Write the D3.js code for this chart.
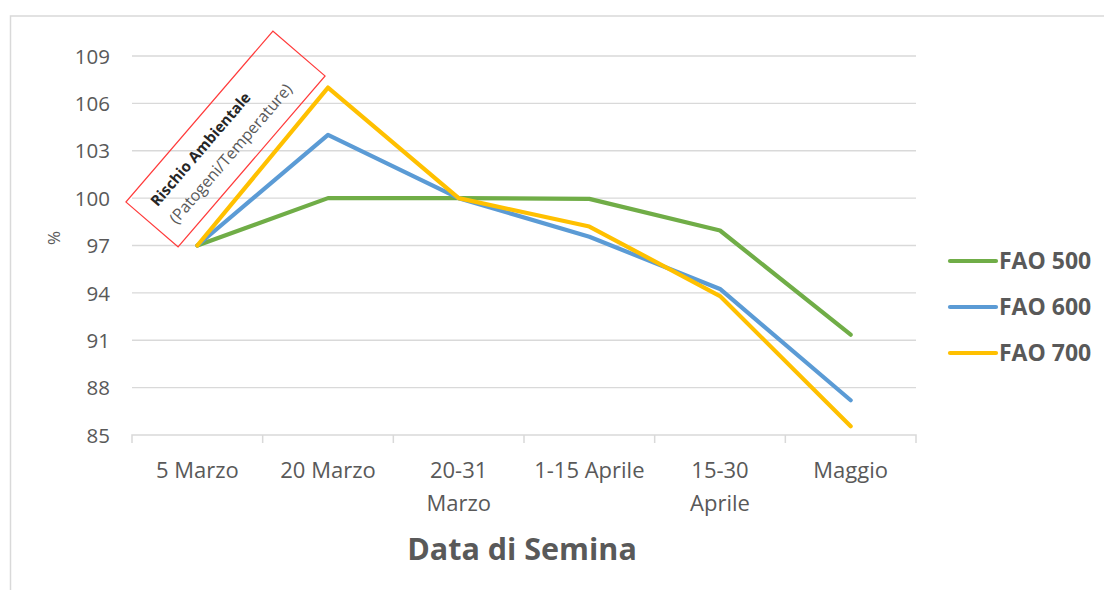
<!DOCTYPE html>
<html><head><meta charset="utf-8">
<script src="https://cdn.jsdelivr.net/npm/d3@7"></script>
<style>
html,body{margin:0;padding:0;background:#fff;}
svg{display:block;font-family:"Open Sans",sans-serif;}
</style></head>
<body>
<svg id="chart" width="1104" height="590"></svg>
<script>
const categories = [["5 Marzo"],["20 Marzo"],["20-31","Marzo"],["1-15 Aprile"],["15-30","Aprile"],["Maggio"]];
const seriesNames = ["FAO 500","FAO 600","FAO 700"];
const fao500 = [97, 100, 100, 99.95, 97.95, 91.35];
const fao600 = [97, 104, 100, 97.55, 94.25, 87.2];
const fao700 = [97, 107, 100, 98.2, 93.8, 85.55];
const yTicks = [85, 88, 91, 94, 97, 100, 103, 106, 109];
const colors = ["#70AD47", "#5B9BD5", "#FFC000"];
const allSeries = [fao500, fao600, fao700];

const svg = d3.select("#chart");
const textColor = "#595959";
const gridColor = "#D9D9D9";

// outer frame
svg.append("path").attr("d", "M10.5,600 L10.5,16 L1110,16")
  .attr("fill","none").attr("stroke","#D9D9D9").attr("stroke-width",1.5);

const pLeft = 132, pRight = 916, pTop = 56, pBottom = 435;
const x = d3.scaleBand().domain(d3.range(categories.length)).range([pLeft, pRight]);
const y = d3.scaleLinear().domain([85, 109]).range([pBottom, pTop]);

// gridlines
svg.append("g").selectAll("line").data(yTicks.filter(t => t !== 85)).join("line")
  .attr("x1", pLeft).attr("x2", pRight)
  .attr("y1", d => y(d)).attr("y2", d => y(d))
  .attr("stroke", gridColor).attr("stroke-width", 1.3);

// y axis labels
const yAxis = d3.axisLeft(y).tickValues(yTicks).tickSize(0).tickPadding(22);
const gy = svg.append("g").attr("transform", `translate(${pLeft},0)`).call(yAxis);
gy.select(".domain").remove();
gy.selectAll("text").attr("fill", textColor).style("font-size","20.5px")
  .style("font-family","'Open Sans',sans-serif").attr("dy","0.35em");

// x axis
const xAxis = d3.axisBottom(x).tickSize(0).tickFormat(() => "");
const gx = svg.append("g").attr("transform", `translate(0,${pBottom})`).call(xAxis);
gx.select(".domain").attr("stroke", gridColor).attr("stroke-width",1.5)
  .attr("d", `M${pLeft},8V0H${pRight}V8`);
gx.selectAll(".tick").remove();
// category separator ticks
svg.append("g").selectAll("line").data(d3.range(1, categories.length)).join("line")
  .attr("x1", d => x(d)).attr("x2", d => x(d))
  .attr("y1", pBottom).attr("y2", pBottom + 8)
  .attr("stroke", gridColor).attr("stroke-width", 1.5);

// category labels
const catG = svg.append("g");
categories.forEach((lines, i) => {
  const t = catG.append("text").attr("x", x(i) + x.bandwidth()/2).attr("y", 478)
    .attr("text-anchor","middle").attr("fill", textColor).style("font-size","22px");
  lines.forEach((ln, j) => {
    t.append("tspan").attr("x", x(i) + x.bandwidth()/2).attr("dy", j === 0 ? 0 : 33).text(ln);
  });
});

// axis titles
svg.append("text").attr("x", 522).attr("y", 560).attr("text-anchor","middle")
  .attr("fill", textColor).style("font-size","30.5px").style("font-weight","bold")
  .text("Data di Semina");
svg.append("text").attr("transform","translate(60,238) rotate(-90)")
  .attr("text-anchor","middle").attr("fill", textColor).style("font-size","17px").text("%");

// lines
const line = d3.line().x((d,i) => x(i) + x.bandwidth()/2).y(d => y(d));
allSeries.forEach((s, k) => {
  svg.append("path").datum(s).attr("d", line).attr("fill","none")
    .attr("stroke", colors[k]).attr("stroke-width", 4.2)
    .attr("stroke-linejoin","round").attr("stroke-linecap","round");
});

// legend
const legY = [261, 307, 353];
seriesNames.forEach((n, k) => {
  svg.append("line").attr("x1", 950).attr("x2", 996).attr("y1", legY[k]).attr("y2", legY[k])
    .attr("stroke", colors[k]).attr("stroke-width", 4.2).attr("stroke-linecap","round");
  svg.append("text").attr("x", 999).attr("y", legY[k]).attr("dy","0.35em")
    .attr("fill", textColor).style("font-size","23px").style("font-weight","bold").text(n);
});

// annotation box
const ang = -49.3;
const ann = svg.append("g").attr("transform", `translate(225.5,139) rotate(${ang})`);
ann.append("rect").attr("x", -112.7).attr("y", -34.4).attr("width", 225.4).attr("height", 68.8)
  .attr("fill","none").attr("stroke","#FF3B3B").attr("stroke-width",1.2);
ann.append("text").attr("x", -96).attr("y", -7).attr("fill","#262626")
  .style("font-size","15px").style("font-weight","bold").text("Rischio Ambientale");
ann.append("text").attr("x", -97).attr("y", 19).attr("fill", textColor)
  .style("font-size","16px").text("(Patogeni/Temperature)");
</script>
</body></html>
